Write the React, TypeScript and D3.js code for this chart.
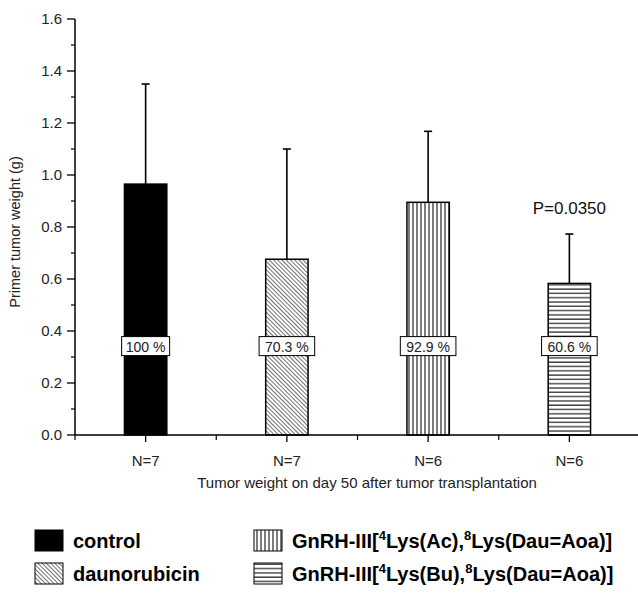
import React from "react";
import * as d3 from "d3";

const categories = [
  "control",
  "daunorubicin",
  "GnRH-III[4Lys(Ac),8Lys(Dau=Aoa)]",
  "GnRH-III[4Lys(Bu),8Lys(Dau=Aoa)]",
];
const means = [0.965, 0.676, 0.895, 0.583];
const errTop = [1.35, 1.1, 1.168, 0.773];
const nLabels = ["N=7", "N=7", "N=6", "N=6"];
const pctLabels = ["100 %", "70.3 %", "92.9 %", "60.6 %"];
const yTicks = [0, 0.2, 0.4, 0.6, 0.8, 1.0, 1.2, 1.4, 1.6];
const yMinor = [0.1, 0.3, 0.5, 0.7, 0.9, 1.1, 1.3, 1.5];
const pText = "P=0.0350";
const pValueY = 0.85;
const pctLabelY = 0.34;
const xTitle = "Tumor weight on day 50 after tumor transplantation";
const yTitle = "Primer tumor weight (g)";
const patterns = ["solid", "diag", "vert", "horiz"];

const W = 638;
const H = 612;
const FONT = "'Liberation Sans', Arial, Helvetica, sans-serif";

function fillFor(p: string) {
  return p === "solid" ? "#000" : `url(#pat-${p})`;
}

function LegendLabel({ text, x, y }: { text: string; x: number; y: number }) {
  const m = text.match(/^(.*\[)(\d)(Lys\([A-Za-z]+\),)(\d)(.*)$/);
  if (!m) {
    return (
      <text x={x} y={y} fontSize={20} fontWeight="bold" fill="#000" fontFamily={FONT}>
        {text}
      </text>
    );
  }
  return (
    <text x={x} y={y} fontSize={20} fontWeight="bold" fill="#000" fontFamily={FONT}>
      <tspan>{m[1]}</tspan>
      <tspan fontSize={13} dy={-8}>{m[2]}</tspan>
      <tspan dy={8}>{m[3]}</tspan>
      <tspan fontSize={13} dy={-8}>{m[4]}</tspan>
      <tspan dy={8}>{m[5]}</tspan>
    </text>
  );
}

export default function App() {
  const x = d3.scaleLinear().domain([0.5, 4.5]).range([75, 640]);
  const y = d3.scaleLinear().domain([0, 1.6]).range([435, 19]);
  const barW = x(0.8) - x(0.5);
  const y0 = y(0);

  const legendPos = [
    { sx: 35, ty: 530 },
    { sx: 35, ty: 563 },
    { sx: 254, ty: 530 },
    { sx: 254, ty: 563 },
  ];

  return (
    <svg
      width={W}
      height={H}
      style={{ position: "absolute", left: 0, top: 0, background: "#fff" }}
      fontFamily={FONT}
    >
      <style>{`body{margin:0}`}</style>
      <defs>
        <pattern id="pat-diag" patternUnits="userSpaceOnUse" width={3} height={3} patternTransform="rotate(-45)">
          <rect width={3} height={3} fill="#fff" />
          <line x1={0} y1={0} x2={0} y2={3} stroke="#333" strokeWidth={1.4} />
        </pattern>
        <pattern id="pat-vert" patternUnits="userSpaceOnUse" width={4} height={4}>
          <rect width={4} height={4} fill="#fff" />
          <line x1={1} y1={0} x2={1} y2={4} stroke="#444" strokeWidth={1.4} />
        </pattern>
        <pattern id="pat-horiz" patternUnits="userSpaceOnUse" width={4} height={4.3}>
          <rect width={4} height={4.3} fill="#fff" />
          <line x1={0} y1={1} x2={4} y2={1} stroke="#444" strokeWidth={1.4} />
        </pattern>
      </defs>
      <rect width={W} height={H} fill="#fff" />

      {means.map((v, i) => {
        const cx = x(i + 1);
        return (
          <g key={i}>
            <line x1={cx} x2={cx} y1={y(v)} y2={y(errTop[i])} stroke="#000" strokeWidth={1.6} />
            <line x1={cx - 4} x2={cx + 4} y1={y(errTop[i])} y2={y(errTop[i])} stroke="#000" strokeWidth={1.6} />
            <rect
              x={cx - barW / 2}
              y={y(v)}
              width={barW}
              height={y0 - y(v)}
              fill={fillFor(patterns[i])}
              stroke="#000"
              strokeWidth={1.5}
            />
          </g>
        );
      })}

      {pctLabels.map((t, i) => {
        const cx = x(i + 1);
        const cy = y(pctLabelY);
        const w = t.length * 7.6 + 10;
        return (
          <g key={i}>
            <rect x={cx - w / 2} y={cy - 10} width={w} height={19} fill="#fff" stroke="#000" strokeWidth={1} />
            <text x={cx} y={cy + 5} fontSize={14} textAnchor="middle" fill="#222">
              {t}
            </text>
          </g>
        );
      })}

      <text x={x(4)} y={y(pValueY)} fontSize={17} textAnchor="middle" fill="#111">
        {pText}
      </text>

      <line x1={75} x2={75} y1={y(1.6)} y2={y0} stroke="#000" strokeWidth={1.5} />
      {yTicks.map((t) => (
        <g key={t}>
          <line x1={67} x2={75} y1={y(t)} y2={y(t)} stroke="#000" strokeWidth={1.3} />
          <text x={62} y={y(t) + 5} fontSize={15} textAnchor="end" fill="#222">
            {t.toFixed(1)}
          </text>
        </g>
      ))}
      {yMinor.map((t) => (
        <line key={t} x1={71} x2={75} y1={y(t)} y2={y(t)} stroke="#000" strokeWidth={1.2} />
      ))}
      <text
        transform={`translate(20,${(y(0) + y(1.6)) / 2 + 5}) rotate(-90)`}
        fontSize={14.5}
        textAnchor="middle"
        fill="#222"
      >
        {yTitle}
      </text>

      <line x1={75} x2={W} y1={y0} y2={y0} stroke="#000" strokeWidth={1.5} />
      {[1, 2, 3, 4].map((c) => (
        <line key={c} x1={x(c)} x2={x(c)} y1={y0} y2={y0 + 7} stroke="#000" strokeWidth={1.3} />
      ))}
      {[0.5, 1.5, 2.5, 3.5].map((c) => (
        <line key={c} x1={x(c)} x2={x(c)} y1={y0} y2={y0 + 5} stroke="#000" strokeWidth={1.2} />
      ))}
      {nLabels.map((t, i) => (
        <text key={i} x={x(i + 1)} y={466} fontSize={15} textAnchor="middle" fill="#222">
          {t}
        </text>
      ))}
      <text x={367} y={488} fontSize={15} textAnchor="middle" fill="#222">
        {xTitle}
      </text>

      {categories.map((c, i) => {
        const p = legendPos[i];
        return (
          <g key={i}>
            <rect
              x={p.sx}
              y={p.ty}
              width={28}
              height={21}
              fill={fillFor(patterns[i])}
              stroke="#000"
              strokeWidth={1}
            />
            <LegendLabel text={c} x={p.sx + 38} y={p.ty + 18} />
          </g>
        );
      })}
    </svg>
  );
}
